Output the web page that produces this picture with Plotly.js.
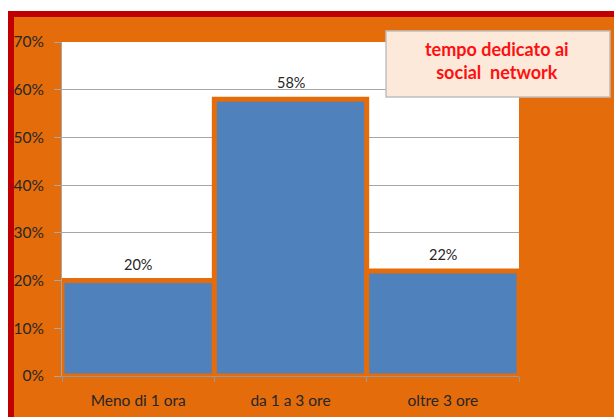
<!DOCTYPE html>
<html>
<head>
<meta charset="utf-8">
<script src="https://cdn.plot.ly/plotly-3.0.1.min.js"></script>
<style>
  html, body { margin:0; padding:0; background:#ffffff; width:614px; height:419px; overflow:hidden; }
  #frame { position:absolute; left:8px; top:11px; width:600px; height:400px;
           border-top:6px solid #C00000; border-left:6px solid #C00000; background:#E46C0A; }
  #chart { position:absolute; left:0; top:0; width:600px; height:400px; }
</style>
</head>
<body>
<div id="frame"><div id="chart"></div></div>
<script>
const categories = ["Meno di 1 ora", "da 1 a 3 ore", "oltre 3 ore"];
const values = [0.20, 0.58, 0.22];
const yTickVals = [0, 0.1, 0.2, 0.3, 0.4, 0.5, 0.6, 0.7];
const yTickText = ["0%", "10%", "20%", "30%", "40%", "50%", "60%", "70%"];
const boxTitle = "tempo dedicato ai<br>social  network";

const ORANGE = "#E46C0A";
const FONT = "Lato, 'Open Sans', sans-serif";

const trace = {
  type: "bar",
  x: categories,
  y: values,
  marker: { color: "#4F81BD", line: { color: ORANGE, width: 5 } },
  hoverinfo: "skip"
};

const labelAnns = categories.map((c, i) => ({
  x: c, y: values[i], xref: "x", yref: "y",
  text: Math.round(values[i] * 100) + "%",
  showarrow: false, yanchor: "bottom", yshift: 6,
  font: { family: FONT, size: 14.5, color: "#262626" }
}));

const layout = {
  width: 600, height: 400,
  margin: { l: 48, r: 95, t: 25, b: 41 },
  paper_bgcolor: ORANGE,
  plot_bgcolor: "#ffffff",
  bargap: 0,
  showlegend: false,
  font: { family: FONT, size: 13, color: "#262626" },
  xaxis: {
    type: "category",
    tickson: "boundaries",
    ticks: "outside", ticklen: 5, tickcolor: "#999999",
    showline: true, linecolor: "#999999", linewidth: 1,
    showgrid: false,
    ticklabelstandoff: 10,
    tickfont: { family: FONT, size: 15.5, color: "#262626" }
  },
  yaxis: {
    range: [0, 0.7],
    tickvals: yTickVals, ticktext: yTickText,
    ticks: "outside", ticklen: 7, tickcolor: "#A6A6A6",
    showline: true, linecolor: "#A6A6A6", linewidth: 1,
    showgrid: true, gridcolor: "#A6A6A6", gridwidth: 1,
    zeroline: false,
    ticklabelstandoff: 7,
    tickfont: { family: FONT, size: 15.5, color: "#262626" }
  },
  shapes: [{
    type: "rect", xref: "paper", yref: "paper",
    x0: 0.709, x1: 1.199, y0: 0.835, y1: 1.033,
    fillcolor: "#FDE9D9", line: { color: "#BFBFBF", width: 1.5 }, layer: "above"
  }],
  annotations: labelAnns.concat([{
    xref: "paper", yref: "paper",
    x: 0.952, y: 0.945, xanchor: "center", yanchor: "middle",
    text: "<b>" + boxTitle + "</b>",
    showarrow: false,
    font: { family: FONT, size: 18, color: "#FF1010" }
  }])
};

Plotly.newPlot("chart", [trace], layout, { displayModeBar: false, staticPlot: true });
</script>
</body>
</html>
